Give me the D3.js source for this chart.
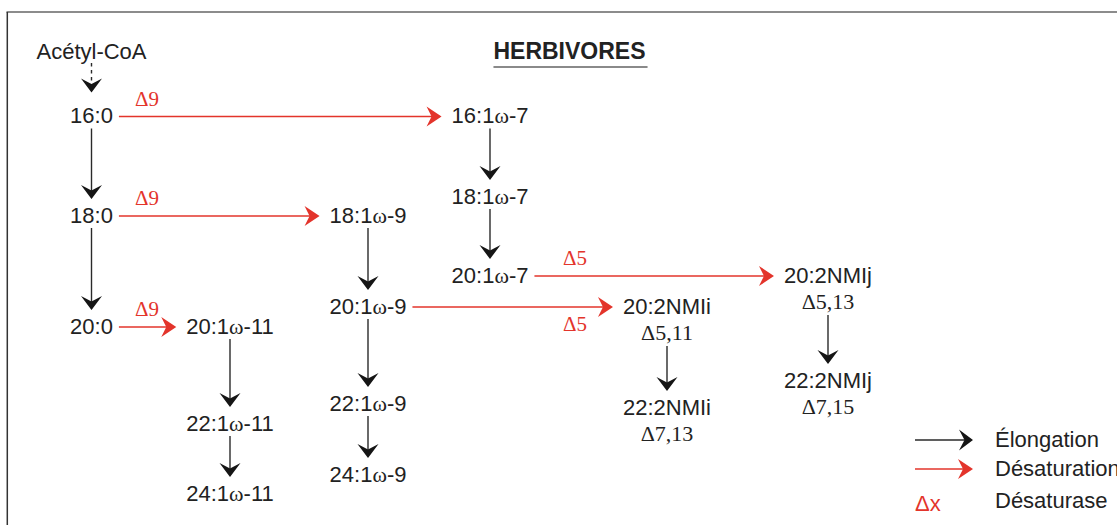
<!DOCTYPE html>
<html><head><meta charset="utf-8">
<script src="https://cdn.jsdelivr.net/npm/d3@7"></script>
<style>body{margin:0;background:#fff;overflow:hidden}</style>
</head><body><svg id="c" width="1117" height="525"></svg>
<script>
// ---------- data ----------
const title = "HERBIVORES";
const compounds = ["Acétyl-CoA","16:0","16:1ω-7","18:0","18:1ω-9","18:1ω-7","20:0","20:1ω-11","20:1ω-9","20:1ω-7",
  "20:2NMIi","20:2NMIj","22:1ω-11","22:1ω-9","22:2NMIi","22:2NMIj","24:1ω-11","24:1ω-9"];
const doubleBondPositions = {"20:2NMIi":"Δ5,11","20:2NMIj":"Δ5,13","22:2NMIi":"Δ7,13","22:2NMIj":"Δ7,15"};
const synthesis = [["Acétyl-CoA","16:0"]];
const elongations = [["16:0","18:0"],["18:0","20:0"],["16:1ω-7","18:1ω-7"],["18:1ω-7","20:1ω-7"],
  ["20:1ω-11","22:1ω-11"],["22:1ω-11","24:1ω-11"],["18:1ω-9","20:1ω-9"],["20:1ω-9","22:1ω-9"],
  ["22:1ω-9","24:1ω-9"],["20:2NMIi","22:2NMIi"],["20:2NMIj","22:2NMIj"]];
const desaturations = [["16:0","16:1ω-7","Δ9"],["18:0","18:1ω-9","Δ9"],["20:0","20:1ω-11","Δ9"],
  ["20:1ω-9","20:2NMIi","Δ5"],["20:1ω-7","20:2NMIj","Δ5"]];
const legendLabels = ["Élongation","Désaturation","Désaturase"];
const legendSymbol = "Δx";

// ---------- layout (grid column, vertical level) ----------
const layout = {
  "Acétyl-CoA":[0,51], "16:0":[0,115.5], "18:0":[0,215], "20:0":[0,326],
  "20:1ω-11":[1,326], "22:1ω-11":[1,423], "24:1ω-11":[1,493],
  "18:1ω-9":[2,215], "20:1ω-9":[2,306], "22:1ω-9":[2,403], "24:1ω-9":[2,474],
  "16:1ω-7":[3,115.5], "18:1ω-7":[3,196], "20:1ω-7":[3,275],
  "20:2NMIi":[4,306], "22:2NMIi":[4,407],
  "20:2NMIj":[5,275], "22:2NMIj":[5,380]
};
const enzymeLabelLayout = [[147,-1],[147,-1],[147,-1],[575,1],[575,-1]]; // x, side
const colX = d3.scaleOrdinal().domain(d3.range(6)).range([91.5,230,368,490,667,828]);
const y = d3.scaleLinear().domain([0,525]).range([0,525]);

const RED = "#e3342b", INK = "#222", LINE = "#2a2a2a";
const FS = 22, SANS = "'Liberation Sans', Arial, sans-serif", SERIF = "'Liberation Serif', 'Times New Roman', serif";

const svg = d3.select("#c");
// frame
svg.append("line").attr("x1",6.5).attr("x2",1117).attr("y1",12).attr("y2",12).attr("stroke","#8c8c8c").attr("stroke-width",2);
svg.append("line").attr("x1",7.3).attr("x2",7.3).attr("y1",12).attr("y2",525).attr("stroke","#333").attr("stroke-width",1.5);

// markers
const defs = svg.append("defs");
function marker(id, d, color){
  defs.append("marker").attr("id",id).attr("viewBox","-17 -12 20 24")
    .attr("markerWidth",20).attr("markerHeight",24).attr("refX",-2).attr("refY",0)
    .attr("orient","auto").attr("markerUnits","userSpaceOnUse")
    .append("path").attr("d",d).attr("fill",color);
}
marker("hk","M0,0L-14,-10.5L-8.5,0L-14,10.5Z","#151515");
marker("hr","M0,0L-15,-10L-10,0L-15,10Z",RED);

// title
const t = svg.append("text").attr("x",569.5).attr("y",51+0.36*23).attr("text-anchor","middle")
  .attr("font-family",SANS).attr("font-weight","bold").attr("font-size",23).attr("fill",INK).text(title);
const tb = t.node().getBBox();
svg.append("line").attr("x1",tb.x).attr("x2",tb.x+tb.width+2).attr("y1",67).attr("y2",67).attr("stroke","#8a8a8a").attr("stroke-width",2);

// nodes
const box = {};
compounds.forEach(name => {
  const [c, r] = layout[name];
  const cx = colX(c), cy = y(r);
  const txt = svg.append("text").attr("x",cx).attr("y",cy+0.36*FS).attr("text-anchor","middle")
    .attr("font-family",SANS).attr("font-size",FS).attr("fill",INK);
  const parts = name.split("ω");
  parts.forEach((p,i) => {
    if (i>0) txt.append("tspan").attr("font-family",SERIF).text("ω");
    txt.append("tspan").text(p);
  });
  const w = txt.node().getComputedTextLength();
  let bottom = cy + 8;
  if (doubleBondPositions[name]) {
    const ny = cy + 27;
    svg.append("text").attr("x",cx).attr("y",ny+0.33*FS).attr("text-anchor","middle")
      .attr("font-family",SERIF).attr("font-size",FS).attr("fill",INK).text(doubleBondPositions[name]);
    bottom = ny + 8;
  }
  box[name] = {cx, cy, left: cx - w/2, right: cx + w/2, top: cy - 8, bottom};
});

function arrow(x1,y1,x2,y2,color,mk,dash){
  const dx = x2-x1, dy = y2-y1, L = Math.hypot(dx,dy);
  const l = svg.append("line").attr("x1",x1).attr("y1",y1)
    .attr("x2",x2 - 2*dx/L).attr("y2",y2 - 2*dy/L)
    .attr("stroke",color).attr("stroke-width",1.4).attr("marker-end",`url(#${mk})`);
  if (dash) l.attr("stroke-dasharray",dash);
}

synthesis.forEach(([s,e]) => {
  arrow(box[s].cx, box[s].cy+12, box[e].cx, box[e].top-15, LINE, "hk", "3.5,3.5");
});
elongations.forEach(([s,e]) => {
  arrow(box[s].cx, box[s].bottom+5, box[e].cx, box[e].top-8, LINE, "hk");
});
desaturations.forEach(([s,e,lab],i) => {
  const ly = box[s].cy + 1;
  arrow(box[s].right+6, ly, box[e].left-10, ly, RED, "hr");
  const [lx, side] = enzymeLabelLayout[i];
  const cyL = ly + side*17.5;
  svg.append("text").attr("x",lx).attr("y",cyL+0.33*21).attr("text-anchor","middle")
    .attr("font-family",SERIF).attr("font-size",21).attr("fill",RED).text(lab);
});

// legend
const legY = [439.5, 468.5, 500];
arrow(915, 440, 973, 440, LINE, "hk");
arrow(915, 469, 973, 469, RED, "hr");
svg.append("text").attr("x",915).attr("y",503+0.36*FS).attr("font-family",SANS).attr("font-size",FS)
  .attr("fill",RED).text(legendSymbol);
legendLabels.forEach((lab,i) => {
  svg.append("text").attr("x",995).attr("y",legY[i]+0.36*FS).attr("font-family",SANS).attr("font-size",FS)
    .attr("fill",INK).text(lab);
});
</script></body></html>
